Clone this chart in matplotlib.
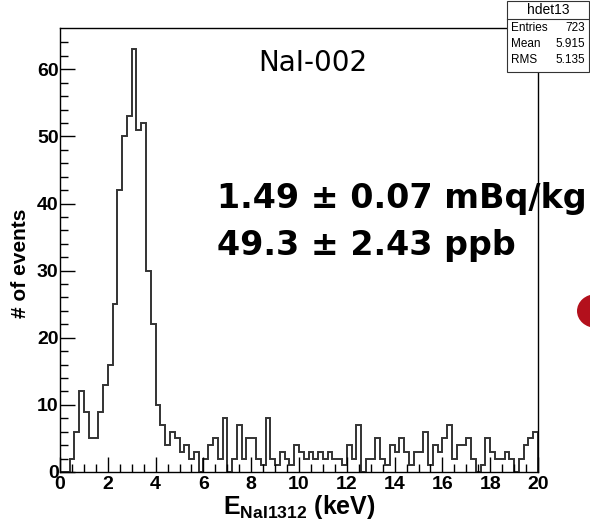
import numpy as np
import matplotlib
matplotlib.use("Agg")
import matplotlib.pyplot as plt
from matplotlib.patches import Rectangle, Circle

plt.rcParams['font.family'] = ['Liberation Sans', 'DejaVu Sans']
plt.rcParams['mathtext.fontset'] = 'custom'
plt.rcParams['mathtext.bf'] = 'Liberation Sans:bold'
plt.rcParams['mathtext.rm'] = 'Liberation Sans'

# histogram contents, 100 bins of 0.2 keV from 0 to 20 keV
bin_lo, bin_hi, n_bins = 0.0, 20.0, 100
counts = [0, 0, 2, 6, 12, 9, 5, 5, 9, 13, 16, 25,
          42, 50, 53, 63, 51, 52,
          30, 22, 10, 7, 4, 6, 5, 3, 4,
          2, 3, 0, 2, 4, 5, 2, 8, 0, 2, 7,
          2, 5, 5, 2, 1, 8, 2, 1, 3, 2,
          1, 4, 3, 2, 3, 2, 3, 2, 3, 2,
          2, 1, 4, 2, 7, 0,
          2, 2, 5, 2, 1, 4, 3, 5, 3, 1, 3, 3, 6, 1, 4, 3, 5, 7,
          2, 4, 4, 5, 2, 0, 1, 5, 3, 2, 2, 3, 2, 0, 2, 4, 5, 6]

stats_title = "hdet13"
stats_names = ["Entries", "Mean", "RMS"]
stats_values = ["723", "5.915", "5.135"]

detector = "NaI-002"
activity = "1.49 ± 0.07 mBq/kg"
concentration = "49.3 ± 2.43 ppb"

W, H = 590, 525
fig = plt.figure(figsize=(W / 100, H / 100), dpi=100)
ax = fig.add_axes([60 / W, 1 - 472 / H, 478 / W, 444 / H])

edges = np.linspace(bin_lo, bin_hi, n_bins + 1)
ax.stairs(counts, edges, color='#333333', lw=1.4)

ax.set_xlim(bin_lo, bin_hi)
ax.set_ylim(0, max(counts) * 1.05)
ax.set_xticks(np.arange(0, 21, 2))
ax.set_xticks(np.arange(0, 20.01, 0.5), minor=True)
ax.set_yticks(np.arange(0, 61, 10))
ax.set_yticks(np.arange(0, 66, 2), minor=True)
ax.tick_params(which='both', direction='in', top=False, right=False, width=1.0)
ax.tick_params(which='major', length=11, labelsize=14)
ax.tick_params(axis='y', which='major', pad=1)
ax.tick_params(axis='x', which='major', pad=3)
ax.tick_params(which='minor', length=6)
for lab in ax.get_xticklabels() + ax.get_yticklabels():
    lab.set_fontweight('bold')
for sp in ax.spines.values():
    sp.set_linewidth(1.0)

ax.set_xlabel("E$_{\\mathbf{NaI1312}}$ (keV)", fontsize=18, fontweight='bold', labelpad=0)
ax.set_ylabel("# of events", fontsize=15, fontweight='bold')
ax.yaxis.set_label_coords(-0.062, 0.47)


def px(x, y):
    return x / W, 1 - y / H


# stats box
bx0, bx1, by0, by1, ty = 507, 589, 1, 72, 19
fig.patches.append(Rectangle(px(bx0, by1), (bx1 - bx0) / W, (by1 - by0) / H,
                             transform=fig.transFigure, fc='white', ec='#333333', lw=0.8))
fig.add_artist(plt.Line2D([bx0 / W, bx1 / W], [1 - ty / H, 1 - ty / H],
                          transform=fig.transFigure, color='#333333', lw=0.8))
fig.text(*px((bx0 + bx1) / 2, 10), stats_title, ha='center', va='center', fontsize=10)
for k, (n, v) in enumerate(zip(stats_names, stats_values)):
    yy = 28 + k * 16
    fig.text(*px(bx0 + 4, yy), n, ha='left', va='center', fontsize=8.5)
    fig.text(*px(bx1 - 4, yy), v, ha='right', va='center', fontsize=8.5)

# annotations
fig.text(*px(258, 63), detector, ha='left', va='center', fontsize=20, family='DejaVu Sans')
fig.text(*px(217, 198), activity, ha='left', va='center', fontsize=24,
         fontweight='bold', family='DejaVu Sans')
fig.text(*px(217, 245), concentration, ha='left', va='center', fontsize=24,
         fontweight='bold', family='DejaVu Sans')

fig.patches.append(Circle(px(596, 311), 19 / W, transform=fig.transFigure,
                          fc='#b3101c', ec='none'))

fig.savefig("out.png", dpi=100)
